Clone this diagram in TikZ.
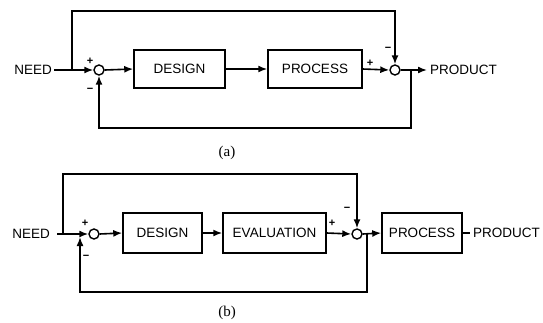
\documentclass[tikz,border=0pt]{standalone}
\usepackage{fontspec}
\setmainfont{Liberation Serif}
\setsansfont{Liberation Sans}
\usetikzlibrary{arrows.meta}
\begin{document}
\begin{tikzpicture}[x=1pt,y=-1pt,
  wire/.style={line width=1.6pt},
  arr/.style={wire,-{Latex[length=9pt,width=7pt]}},
  blk/.style={draw,line width=1.5pt,minimum height=38pt,inner sep=0pt,font=\sffamily\fontsize{13.5}{15}\selectfont},
  sumpt/.style={draw,circle,line width=1.4pt,minimum size=10pt,inner sep=0pt},
  lbl/.style={font=\sffamily\fontsize{13.5}{15}\selectfont,inner sep=0pt},
  sgn/.style={font=\sffamily\bfseries\fontsize{11}{12}\selectfont,inner sep=0pt},
  captxt/.style={font=\fontsize{15}{17}\selectfont,inner sep=0pt}]
\useasboundingbox (0,0) rectangle (543,322);

% ---------- (a) ----------
\node[lbl,anchor=east] (needA) at (52,70) {NEED};
\node[sumpt] (s1a) at (99,70) {};
\node[blk,minimum width=91pt] (desA) at (179.5,69) {DESIGN};
\node[blk,minimum width=94pt] (procA) at (315,69) {PROCESS};
\node[sumpt] (s2a) at (395,70) {};
\node[lbl,anchor=west] (prodA) at (430,70) {PRODUCT};
\coordinate (ffA) at (72,70);
\coordinate (topA) at (395,11);
\coordinate (fbA) at (411,70);
\coordinate (botA) at (411,128);

\draw[arr] ([xshift=2pt]needA.east) -- (s1a.west);
\draw[arr] (s1a.east) -- (desA.west);
\draw[arr] (desA.east) -- (procA.west);
\draw[arr] (procA.east) -- (s2a.west);
\draw[arr] (s2a.east) -- ([xshift=-3pt]prodA.west);
\draw[arr] (ffA) |- (topA) -- (s2a.north);
\draw[arr] (fbA) -- (botA) -| (s1a.south);

\node[sgn] (pa1) at (90,61) {+};
\node[sgn] (ma1) at (90,90) {\textminus};
\node[sgn] (pa2) at (370,63) {+};
\node[sgn] (ma2) at (388,49) {\textminus};
\node[captxt] (capA) at (227,153) {(a)};

% ---------- (b) ----------
\node[lbl,anchor=east] (needB) at (50,234) {NEED};
\node[sumpt] (s1b) at (94,234) {};
\node[blk,minimum width=79pt,minimum height=40pt] (desB) at (162.5,233) {DESIGN};
\node[blk,minimum width=103pt,minimum height=40pt] (evalB) at (274.5,233) {EVALUATION};
\node[sumpt] (s2b) at (357,234) {};
\node[blk,minimum width=80pt,minimum height=40pt] (procB) at (422,233) {PROCESS};
\node[lbl,anchor=west] (prodB) at (473,233) {PRODUCT};
\coordinate (ffB) at (63,234);
\coordinate (topB) at (357,174);
\coordinate (fbB) at (367,234);
\coordinate (botB) at (80,292);
\coordinate (jB) at (80,237);

\draw[arr] ([xshift=7pt]needB.east) -- (s1b.west);
\draw[arr] (s1b.east) -- (desB.west);
\draw[arr] (desB.east) -- (evalB.west);
\draw[arr] (evalB.east) -- (s2b.west);
\draw[arr] (s2b.east) -- (procB.west);
\draw[wire] (procB.east) -- ([xshift=-3pt]prodB.west);
\draw[arr] (ffB) |- (topB) -- (s2b.north);
\draw[arr] (fbB) |- (botB) -- (jB);

\node[sgn] (pb1) at (85,223) {+};
\node[sgn] (mb1) at (86,257) {\textminus};
\node[sgn] (pb2) at (332,223) {+};
\node[sgn] (mb2) at (347,209) {\textminus};
\node[captxt] (capB) at (227,313) {(b)};
\end{tikzpicture}
\end{document}
